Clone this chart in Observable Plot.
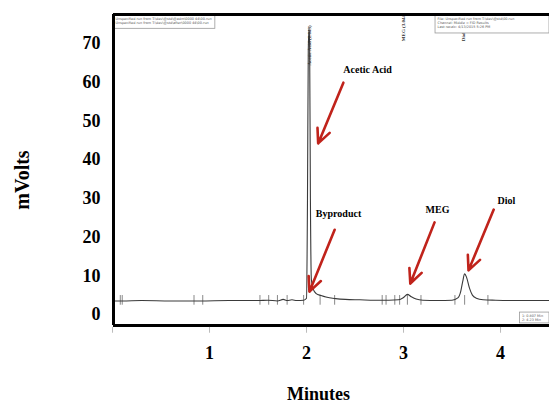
<!DOCTYPE html>
<html><head><meta charset="utf-8">
<script src="https://cdn.jsdelivr.net/npm/d3@7"></script>
<script src="https://cdn.jsdelivr.net/npm/@observablehq/plot@0.6"></script>
<style>body{margin:0;background:#fff}#chart svg{display:block}</style>
</head><body><div id="chart"></div>
<script>
// Chromatogram trace (minutes, mV)
const times  = [0.00, 0.10, 0.30, 0.60, 0.90, 1.20, 1.50, 1.60, 1.70, 1.76, 1.80, 1.85, 1.90, 1.97, 2.00,
                2.010, 2.018, 2.026, 2.032, 2.040, 2.050, 2.07, 2.10, 2.15, 2.20, 2.30, 2.40, 2.55, 2.70, 2.85,
                2.95, 3.00, 3.04, 3.08, 3.13, 3.20, 3.35, 3.50, 3.56, 3.59, 3.61, 3.63, 3.65, 3.68, 3.71,
                3.75, 3.82, 3.95, 4.20, 4.50];
const mvolts = [3.5, 3.5, 3.6, 3.5, 3.5, 3.6, 3.6, 3.7, 3.5, 3.9, 3.6, 3.8, 3.6, 3.7, 4.2,
                30, 68, 74, 70, 30, 9.0, 6.5, 5.4, 4.9, 4.5, 4.1, 3.9, 3.8, 3.7, 3.7,
                3.8, 4.4, 5.2, 4.6, 4.0, 3.7, 3.6, 3.7, 4.3, 6.0, 8.5, 10.5, 9.6, 6.8, 5.0,
                4.2, 3.8, 3.7, 3.6, 3.6];

// Integration markers on the baseline (minutes)
const markerTimes = [0.08, 0.10, 0.84, 0.93, 1.52, 1.61, 1.70, 1.80, 1.97, 2.14, 2.29,
                     2.78, 2.82, 2.91, 2.96, 3.04, 3.18, 3.53, 3.63, 3.87];

// Axis ticks
const yTicks = [0, 10, 20, 30, 40, 50, 60, 70];
const xTicks = [1, 2, 3, 4];
const minorTicks = [0, 1, 2, 3, 4];

// Peak annotations (label position and arrow, in minutes / mV)
const peakNames = ["Acetic Acid", "Byproduct", "MEG", "Diol"];
const labelX = [2.63, 2.33, 3.35, 4.06];
const labelY = [63.3, 26.1, 27.1, 29.4];
const arrowX1 = [2.38, 2.29, 3.32, 3.93];
const arrowY1 = [59.9, 21.9, 23.8, 27.1];
const arrowX2 = [2.12, 2.03, 3.07, 3.67];
const arrowY2 = [44.2, 5.9, 8.0, 11.4];

// Instrument's small vertical peak labels
const vLabels = ["Acetic Acid (2.043)", "MEG (3.044)", "Diol (3.634)"];
const vLabelX = [2.03, 3.00, 3.62];
const vLabelY = [69.5, 74.2, 73.8];

// Instrument info boxes
const boxText = [
  "Unspecified run from T:\\dev\\@std\\@adm\\0000 44\\00.run\nUnspecified run from T:\\dev\\@std\\after\\0000 44\\00.run",
  "File: Unspecified run from T:\\dev\\@std\\00.run\nChannel: Middle = FID Results\nLast recalc: 4/13/2015 5:26 PM",
  "1: 0.807 Min\n2: 4.23 Min"
];
const boxX1 = [0.01, 3.33, 4.20];
const boxX2 = [1.06, 4.505, 4.505];
const boxY1 = [77.2, 77.2, 0.5];
const boxY2 = [73.8, 72.6, -2.3];

const xMin = 0.01, xMax = 4.505, yMin = -2.84, yMax = 77.5;

const signal = times.map((t, i) => ({t, v: mvolts[i]}));
const peaks = peakNames.map((name, i) => ({name, lx: labelX[i], ly: labelY[i],
  x1: arrowX1[i], y1: arrowY1[i], x2: arrowX2[i], y2: arrowY2[i]}));
const vlab = vLabels.map((text, i) => ({text, x: vLabelX[i], y: vLabelY[i]}));
const boxes = boxText.map((text, i) => ({text, x1: boxX1[i], x2: boxX2[i], y1: boxY1[i], y2: boxY2[i]}));

const font = "'Liberation Serif', 'Times New Roman', serif";

const chart = Plot.plot({
  width: 549,
  height: 405,
  marginLeft: 113,
  marginRight: 0,
  marginTop: 14,
  marginBottom: 80,
  style: {fontFamily: font, fontWeight: "bold", background: "white", color: "black"},
  x: {domain: [xMin, xMax]},
  y: {domain: [yMin, yMax]},
  marks: [
    Plot.ruleX(markerTimes, {x: d => d, y1: 2.4, y2: 4.9, stroke: "#888", strokeWidth: 1}),
    Plot.line(signal, {x: "t", y: "v", stroke: "#3a3a3a", strokeWidth: 1.1, curve: "monotone-x"}),
    Plot.text(vlab, {x: "x", y: "y", text: "text", rotate: -90, fontSize: 5, fill: "#333"}),
    Plot.rect(boxes, {x1: "x1", x2: "x2", y1: "y1", y2: "y2", fill: "white", stroke: "#999", strokeWidth: 0.8}),
    Plot.text(boxes, {x: "x1", y: "y1", text: "text", textAnchor: "start", lineAnchor: "top",
      dx: 2, dy: 1, fontSize: 3.4, fontWeight: "normal", fill: "#555", fontFamily: "DejaVu Sans", lineHeight: 1.25}),
    Plot.arrow(peaks, {x1: "x1", y1: "y1", x2: "x2", y2: "y2", stroke: "#c0231b",
      strokeWidth: 2.6, headLength: 9, headAngle: 50}),
    Plot.text(peaks, {x: "lx", y: "ly", text: "name", fontSize: 10, fill: "black"}),
    // frame (top, left, bottom)
    Plot.ruleY([yMax], {stroke: "black", strokeWidth: 3}),
    Plot.ruleY([yMin], {stroke: "black", strokeWidth: 3}),
    Plot.ruleX([xMin], {stroke: "black", strokeWidth: 3}),
    Plot.ruleX(minorTicks, {x: d => d, y1: yMin - 0.5, y2: yMin - 2, stroke: "#aaa", strokeWidth: 0.8}),
    Plot.axisY(yTicks, {anchor: "left", tickSize: 0, tickPadding: 13, fontSize: 18, fontWeight: "bold"}),
    Plot.axisX(xTicks, {anchor: "bottom", tickSize: 0, tickPadding: 21, fontSize: 18, fontWeight: "bold"}),
    Plot.text(["mVolts"], {frameAnchor: "left", textAnchor: "middle", lineAnchor: "middle",
      dx: -91, dy: 10, rotate: -90, fontSize: 20, fill: "black"}),
    Plot.text(["Minutes"], {frameAnchor: "bottom", textAnchor: "middle", lineAnchor: "middle",
      dx: -13, dy: 69, fontSize: 18, fill: "black"})
  ]
});
document.getElementById("chart").appendChild(chart);
</script></body></html>
